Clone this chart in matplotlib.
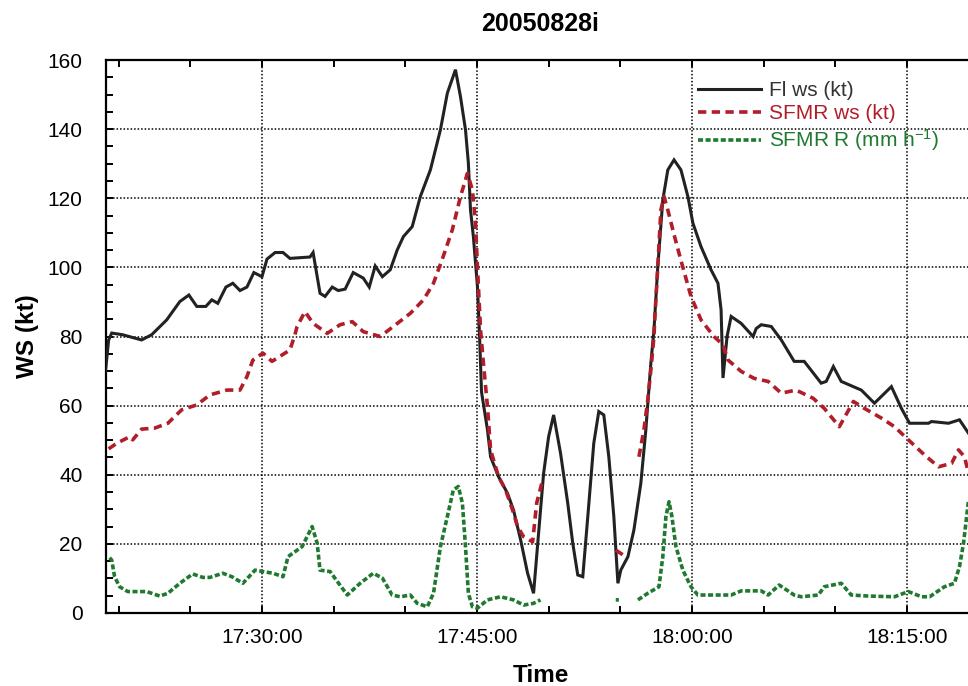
import matplotlib
matplotlib.use("Agg")
import matplotlib.pyplot as plt
import matplotlib.dates as mdates
import numpy as np
import pandas as pd

plt.rcParams["font.family"] = ["Liberation Sans", "DejaVu Sans"]
plt.rcParams["mathtext.fontset"] = "custom"
plt.rcParams["mathtext.rm"] = "Liberation Sans"
plt.rcParams["mathtext.default"] = "regular"

DAY = "2005-08-28 "
nan = np.nan

# Flight-level wind speed (kt)
fl_time = [
    "17:19:05", "17:19:18", "17:19:31", "17:20:17", "17:21:36", "17:22:18", "17:23:21",
    "17:24:16", "17:24:54", "17:25:27", "17:26:05", "17:26:30", "17:26:55", "17:27:29",
    "17:27:58", "17:28:28", "17:28:57", "17:29:26", "17:30:00", "17:30:21", "17:30:55",
    "17:31:28", "17:31:57", "17:33:21", "17:33:34", "17:34:03", "17:34:24", "17:34:54",
    "17:35:19", "17:35:48", "17:36:22", "17:37:04", "17:37:29", "17:37:54", "17:38:24",
    "17:38:57", "17:39:26", "17:39:52", "17:40:29", "17:41:03", "17:41:45", "17:42:27",
    "17:42:56", "17:43:30", "17:43:51", "17:44:12", "17:44:24", "17:44:33", "17:44:45",
    "17:45:02", "17:45:11", "17:45:19", "17:45:44", "17:45:57", "17:46:30", "17:47:08",
    "17:47:33", "17:48:03", "17:48:32", "17:48:57", "17:49:18", "17:49:39", "17:50:00",
    "17:50:21", "17:50:50", "17:51:20", "17:51:41", "17:52:02", "17:52:23", "17:52:44",
    "17:53:09", "17:53:30", "17:53:51", "17:54:12", "17:54:33", "17:54:50", "17:55:02",
    "17:55:32", "17:55:57", "17:56:26", "17:56:47", "17:57:08", "17:57:21", "17:57:37",
    "17:57:58", "17:58:19", "17:58:45", "17:59:14", "17:59:43", "18:00:04", "18:00:38",
    "18:01:20", "18:01:49", "18:02:02", "18:02:10", "18:02:27", "18:02:44", "18:03:26",
    "18:04:16", "18:04:29", "18:04:50", "18:05:32", "18:06:14", "18:07:08", "18:07:50",
    "18:09:01", "18:09:22", "18:09:52", "18:10:25", "18:11:49", "18:12:44", "18:13:55",
    "18:14:37", "18:15:11", "18:16:30", "18:16:43", "18:17:54", "18:18:40", "18:19:18",
]
fl_ws = [
    70, 79, 81, 80.5, 79, 80.5, 84.8,
    90.1, 92, 88.7, 88.7, 90.6, 89.6, 94.3,
    95.4, 93.3, 94.3, 98.5, 97.3, 102.4, 104.3,
    104.3, 102.6, 103, 104.3, 92.5, 91.6, 94.3,
    93.3, 93.7, 98.5, 96.9, 94.3, 100.4, 97.3,
    99.3, 105, 108.9, 111.8, 120.5, 128.2, 139.8,
    150.4, 157.2, 149.4, 139.8, 130.2, 116.6, 108.9,
    94.5, 80, 64, 53, 45.2, 39.5, 34.6,
    29.8, 21.1, 11.5, 5.7, 23.1, 40.4, 51,
    57.3, 46.2, 31.8, 20.2, 11, 10.5, 27.9,
    49.1, 58.3, 57.3, 45.2, 27.9, 8.6, 12.4,
    16.3, 24, 37.5, 53, 72.3, 81.9, 100.2,
    119.5, 128.2, 131.1, 128.2, 120.5, 112.8, 106,
    99.3, 95.4, 87.7, 68, 80, 85.8, 83.8,
    80, 82.3, 83.4, 82.9, 79, 72.8, 72.8,
    66.5, 67, 71.3, 67, 64.5, 60.7, 65.5,
    59.2, 54.9, 54.9, 55.4, 54.9, 55.9, 52,
]

# SFMR surface wind speed (kt); NaN marks missing data
sfmr_time = [
    "17:19:18", "17:19:31", "17:19:52", "17:20:46", "17:20:59", "17:21:36", "17:22:31",
    "17:23:26", "17:24:24", "17:25:27", "17:26:22", "17:27:33", "17:28:28", "17:28:57",
    "17:29:22", "17:30:04", "17:30:42", "17:31:57", "17:32:18", "17:32:27", "17:33:00",
    "17:33:34", "17:34:33", "17:35:27", "17:36:18", "17:37:04", "17:38:15", "17:39:10",
    "17:40:21", "17:41:16", "17:41:58", "17:42:39", "17:43:17", "17:43:51", "17:44:20",
    "17:44:41", "17:44:54", "17:45:02", "17:45:15", "17:45:27", "17:45:44", "17:45:57",
    "17:46:30", "17:47:00", "17:47:29", "17:47:50", "17:48:15", "17:48:53", "17:49:10",
    "17:49:35", "17:52:00", "17:54:41", "17:55:23", "17:55:50", "17:56:18", "17:56:39",
    "17:56:55", "17:57:08", "17:57:21", "17:57:25", "17:57:37", "17:57:50", "17:58:03",
    "17:58:19", "17:58:45", "17:59:14", "17:59:56", "18:00:38", "18:01:32", "18:02:10",
    "18:02:31", "18:03:26", "18:04:20", "18:05:19", "18:06:14", "18:07:16", "18:08:28",
    "18:09:14", "18:10:17", "18:11:16", "18:12:02", "18:13:13", "18:14:08", "18:15:06",
    "18:16:14", "18:17:12", "18:18:07", "18:18:36", "18:19:01", "18:19:18",
]
sfmr_ws = [
    47.5, 48.1, 49.1, 51, 50.1, 53.2, 53.5,
    54.9, 58.8, 60.2, 63.1, 64.5, 64.5, 68.4,
    73.2, 75.2, 72.8, 76.1, 80.5, 82.9, 87.2,
    83.8, 80.9, 83.4, 84.3, 81.4, 80, 82.9,
    86.7, 90.6, 95.4, 103.2, 110.9, 120.5, 127.2,
    122.4, 112.8, 100.2, 81.9, 72.3, 59.7, 47.2,
    39.5, 35.6, 29.8, 25, 22.1, 20.6, 31.8,
    38.5, nan, 18.2, 16.3, nan, 45.2, 53,
    61.6, 70.3, 80, 85.8, 100.2, 116.6, 120.5,
    116.6, 109.5, 102, 91.6, 84.8, 80, 77.6,
    73.2, 69.9, 67.9, 67, 63.6, 64.5, 62.1,
    59.2, 53.9, 61.2, 59.2, 56.4, 53.9, 50.1,
    45.7, 42.3, 43.3, 47.2, 45.2, 40.4,
]

# SFMR rain rate (mm/h); NaN marks missing data
rain_time = [
    "17:19:22", "17:19:31", "17:19:43", "17:20:04", "17:20:38", "17:21:57", "17:22:52",
    "17:23:26", "17:24:16", "17:25:10", "17:25:52", "17:26:22", "17:27:16", "17:27:54",
    "17:28:40", "17:29:31", "17:30:04", "17:30:46", "17:31:28", "17:31:49", "17:32:48",
    "17:33:30", "17:33:51", "17:34:03", "17:34:45", "17:35:57", "17:36:51", "17:37:46",
    "17:38:24", "17:39:05", "17:39:39", "17:40:21", "17:40:50", "17:41:32", "17:41:58",
    "17:42:27", "17:42:56", "17:43:21", "17:43:42", "17:43:59", "17:44:12", "17:44:24",
    "17:44:41", "17:45:02", "17:45:44", "17:46:39", "17:47:33", "17:48:15", "17:48:57",
    "17:49:26", "17:52:00", "17:54:41", "17:54:54", "17:55:30", "17:56:14", "17:56:55",
    "17:57:42", "17:57:58", "17:58:11", "17:58:24", "17:58:36", "17:58:53", "17:59:22",
    "17:59:56", "18:00:25", "18:01:20", "18:02:44", "18:03:26", "18:04:50", "18:05:19",
    "18:06:05", "18:07:08", "18:07:37", "18:08:49", "18:09:14", "18:10:25", "18:11:07",
    "18:12:19", "18:14:08", "18:15:06", "18:16:01", "18:16:35", "18:17:37", "18:18:19",
    "18:18:40", "18:18:57", "18:19:10", "18:19:18",
]
rain_rate = [
    16, 15.3, 10.5, 7.6, 6.2, 6.2, 4.9,
    5.7, 8.6, 11.3, 10.3, 10.3, 11.5, 10.5,
    8.6, 12.4, 12, 11.5, 10.5, 16.3, 19.2,
    25, 20.2, 12.4, 12, 5.2, 8.6, 11.5,
    10.1, 5.2, 4.7, 5.2, 2.8, 1.8, 5.7,
    19.2, 27.9, 35.6, 36.6, 31.8, 19.2, 5.7,
    1.8, 1.4, 3.8, 4.7, 3.8, 2.3, 2.8,
    3.8, nan, 3.8, 3.8, nan, 3.8, 5.7,
    7.6, 16.3, 27.9, 32.2, 28, 19.2, 12.4,
    7.6, 5.2, 5.2, 5.2, 6.4, 6.4, 5.2,
    8.1, 5.2, 4.7, 5.2, 7.6, 8.6, 5.2,
    4.9, 4.7, 6.2, 4.7, 4.7, 7.6, 8.6,
    13.4, 20.2, 27.9, 32.7,
]

y_ticks = [0, 20, 40, 60, 80, 100, 120, 140, 160]


def to_dt(times):
    return pd.to_datetime([DAY + t for t in times])


BLACK = "#222222"
RED = "#b01e2a"
GREEN = "#1f7a30"

fig = plt.figure(figsize=(9.68, 6.86), dpi=100)
ax = fig.add_axes([106 / 968, 1 - 613 / 686, (975 - 106) / 968, 553 / 686])

l1, = ax.plot(to_dt(fl_time), fl_ws, color=BLACK, lw=2.2, solid_joinstyle="miter",
              label="Fl ws (kt)", zorder=4)
l2, = ax.plot(to_dt(sfmr_time), sfmr_ws, color=RED, lw=2.6, linestyle=(0, (2.3, 1.5)),
              label="SFMR ws (kt)", zorder=5)
l3, = ax.plot(to_dt(rain_time), rain_rate, color=GREEN, lw=2.6, linestyle=(0, (1.4, 0.7)),
              label="SFMR R (mm h$^{-1}$)", zorder=3)

ax.set_xlim(pd.Timestamp(DAY + "17:19:07"), pd.Timestamp(DAY + "18:19:45"))
ax.set_ylim(0, 160)
ax.set_yticks(y_ticks)
ax.yaxis.set_minor_locator(matplotlib.ticker.MultipleLocator(5))
ax.xaxis.set_major_locator(mdates.MinuteLocator(byminute=[0, 15, 30, 45]))
ax.xaxis.set_minor_locator(mdates.MinuteLocator(byminute=range(0, 60, 5)))
ax.xaxis.set_major_formatter(mdates.DateFormatter("%H:%M:%S"))

ax.grid(True, which="major", color="black", linestyle=(0, (1, 1.3)), linewidth=1.1)
ax.tick_params(which="both", direction="in", top=True, right=False, width=1.4,
               color="black", labelsize=15)
ax.tick_params(which="major", length=5)
ax.tick_params(which="minor", length=5)
ax.tick_params(axis="y", pad=17)
ax.tick_params(axis="x", pad=11)
for s in ax.spines.values():
    s.set_linewidth(1.6)

ax.set_title("20050828i", fontsize=18, fontweight="bold", pad=21)
ax.set_xlabel("Time", fontsize=17.5, fontweight="bold", labelpad=12)
ax.set_ylabel("WS (kt)", fontsize=17.5, fontweight="bold", labelpad=6)

leg = ax.legend(handles=[l1, l2, l3], loc="upper left",
                bbox_to_anchor=(698 / 968, 1 - 81 / 686), bbox_transform=fig.transFigure,
                frameon=False, fontsize=15, handlelength=3.0, handletextpad=0.4,
                labelspacing=0.2, borderpad=0, borderaxespad=0)
for txt, c in zip(leg.get_texts(), ["#333333", RED, GREEN]):
    txt.set_color(c)

fig.savefig("out.png", dpi=100)
